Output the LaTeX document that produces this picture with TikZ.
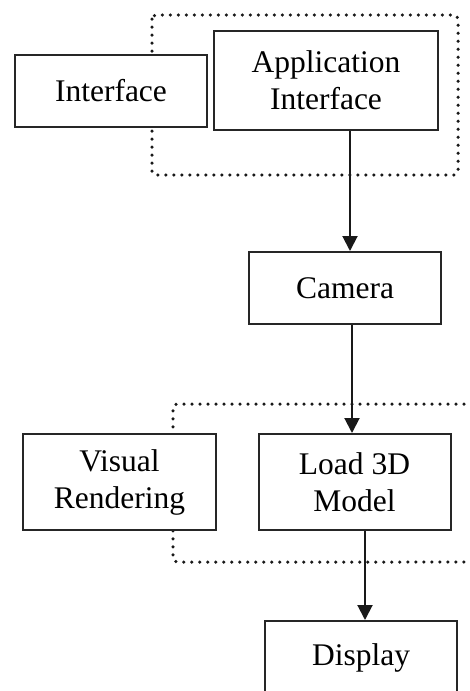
\documentclass[tikz,border=0pt]{standalone}
\usepackage{fontspec}
\setmainfont{Liberation Serif}
\usetikzlibrary{arrows.meta}
\begin{document}
\begin{tikzpicture}[x=1pt,y=-1pt,
  blk/.style={draw=black!85,line width=2pt,fill=white,align=center,inner sep=0pt,
    font=\fontsize{31.5}{37}\selectfont},
  dots/.style={draw=black!90,line width=3.5pt,line cap=round,dash pattern=on 0pt off 8pt,rounded corners=4pt},
  arr/.style={draw=black!90,line width=2pt,-{Triangle[width=15pt,length=15pt]}},
  ln/.style={draw=black!90,line width=2pt}]
\useasboundingbox (0,0) rectangle (470,691);
\clip (0,0) rectangle (470,691);
\fill[white] (0,0) rectangle (470,691);
% dotted groups
\draw[dots] (152,15) rectangle (458,175);
\draw[dots] (480,404) -- (173,404) -- (173,562) -- (480,562);
% boxes
\node[blk,minimum width=192pt,minimum height=72pt] (iface) at (111,91) {Interface};
\node[blk,minimum width=224pt,minimum height=99pt] (app) at (326,80.5) {Application\\Interface};
\node[blk,minimum width=192pt,minimum height=72pt] (cam) at (345,288) {Camera};
\node[blk,minimum width=193pt,minimum height=96pt] (vis) at (119.5,482) {Visual\\Rendering};
\node[blk,minimum width=192pt,minimum height=96pt] (load) at (354.5,482) {Load 3D\\Model};
\node[blk,minimum width=192pt,minimum height=74pt] (disp) at (361,658) {Display};
% connectors
\draw[arr] (app.south -| 350,0) -- (cam.north -| 350,0);
\draw[arr] (cam.south -| 352,0) -- (load.north -| 352,0);
\draw[arr] (load.south -| 365,0) -- (disp.north -| 365,0);
\end{tikzpicture}
\end{document}
